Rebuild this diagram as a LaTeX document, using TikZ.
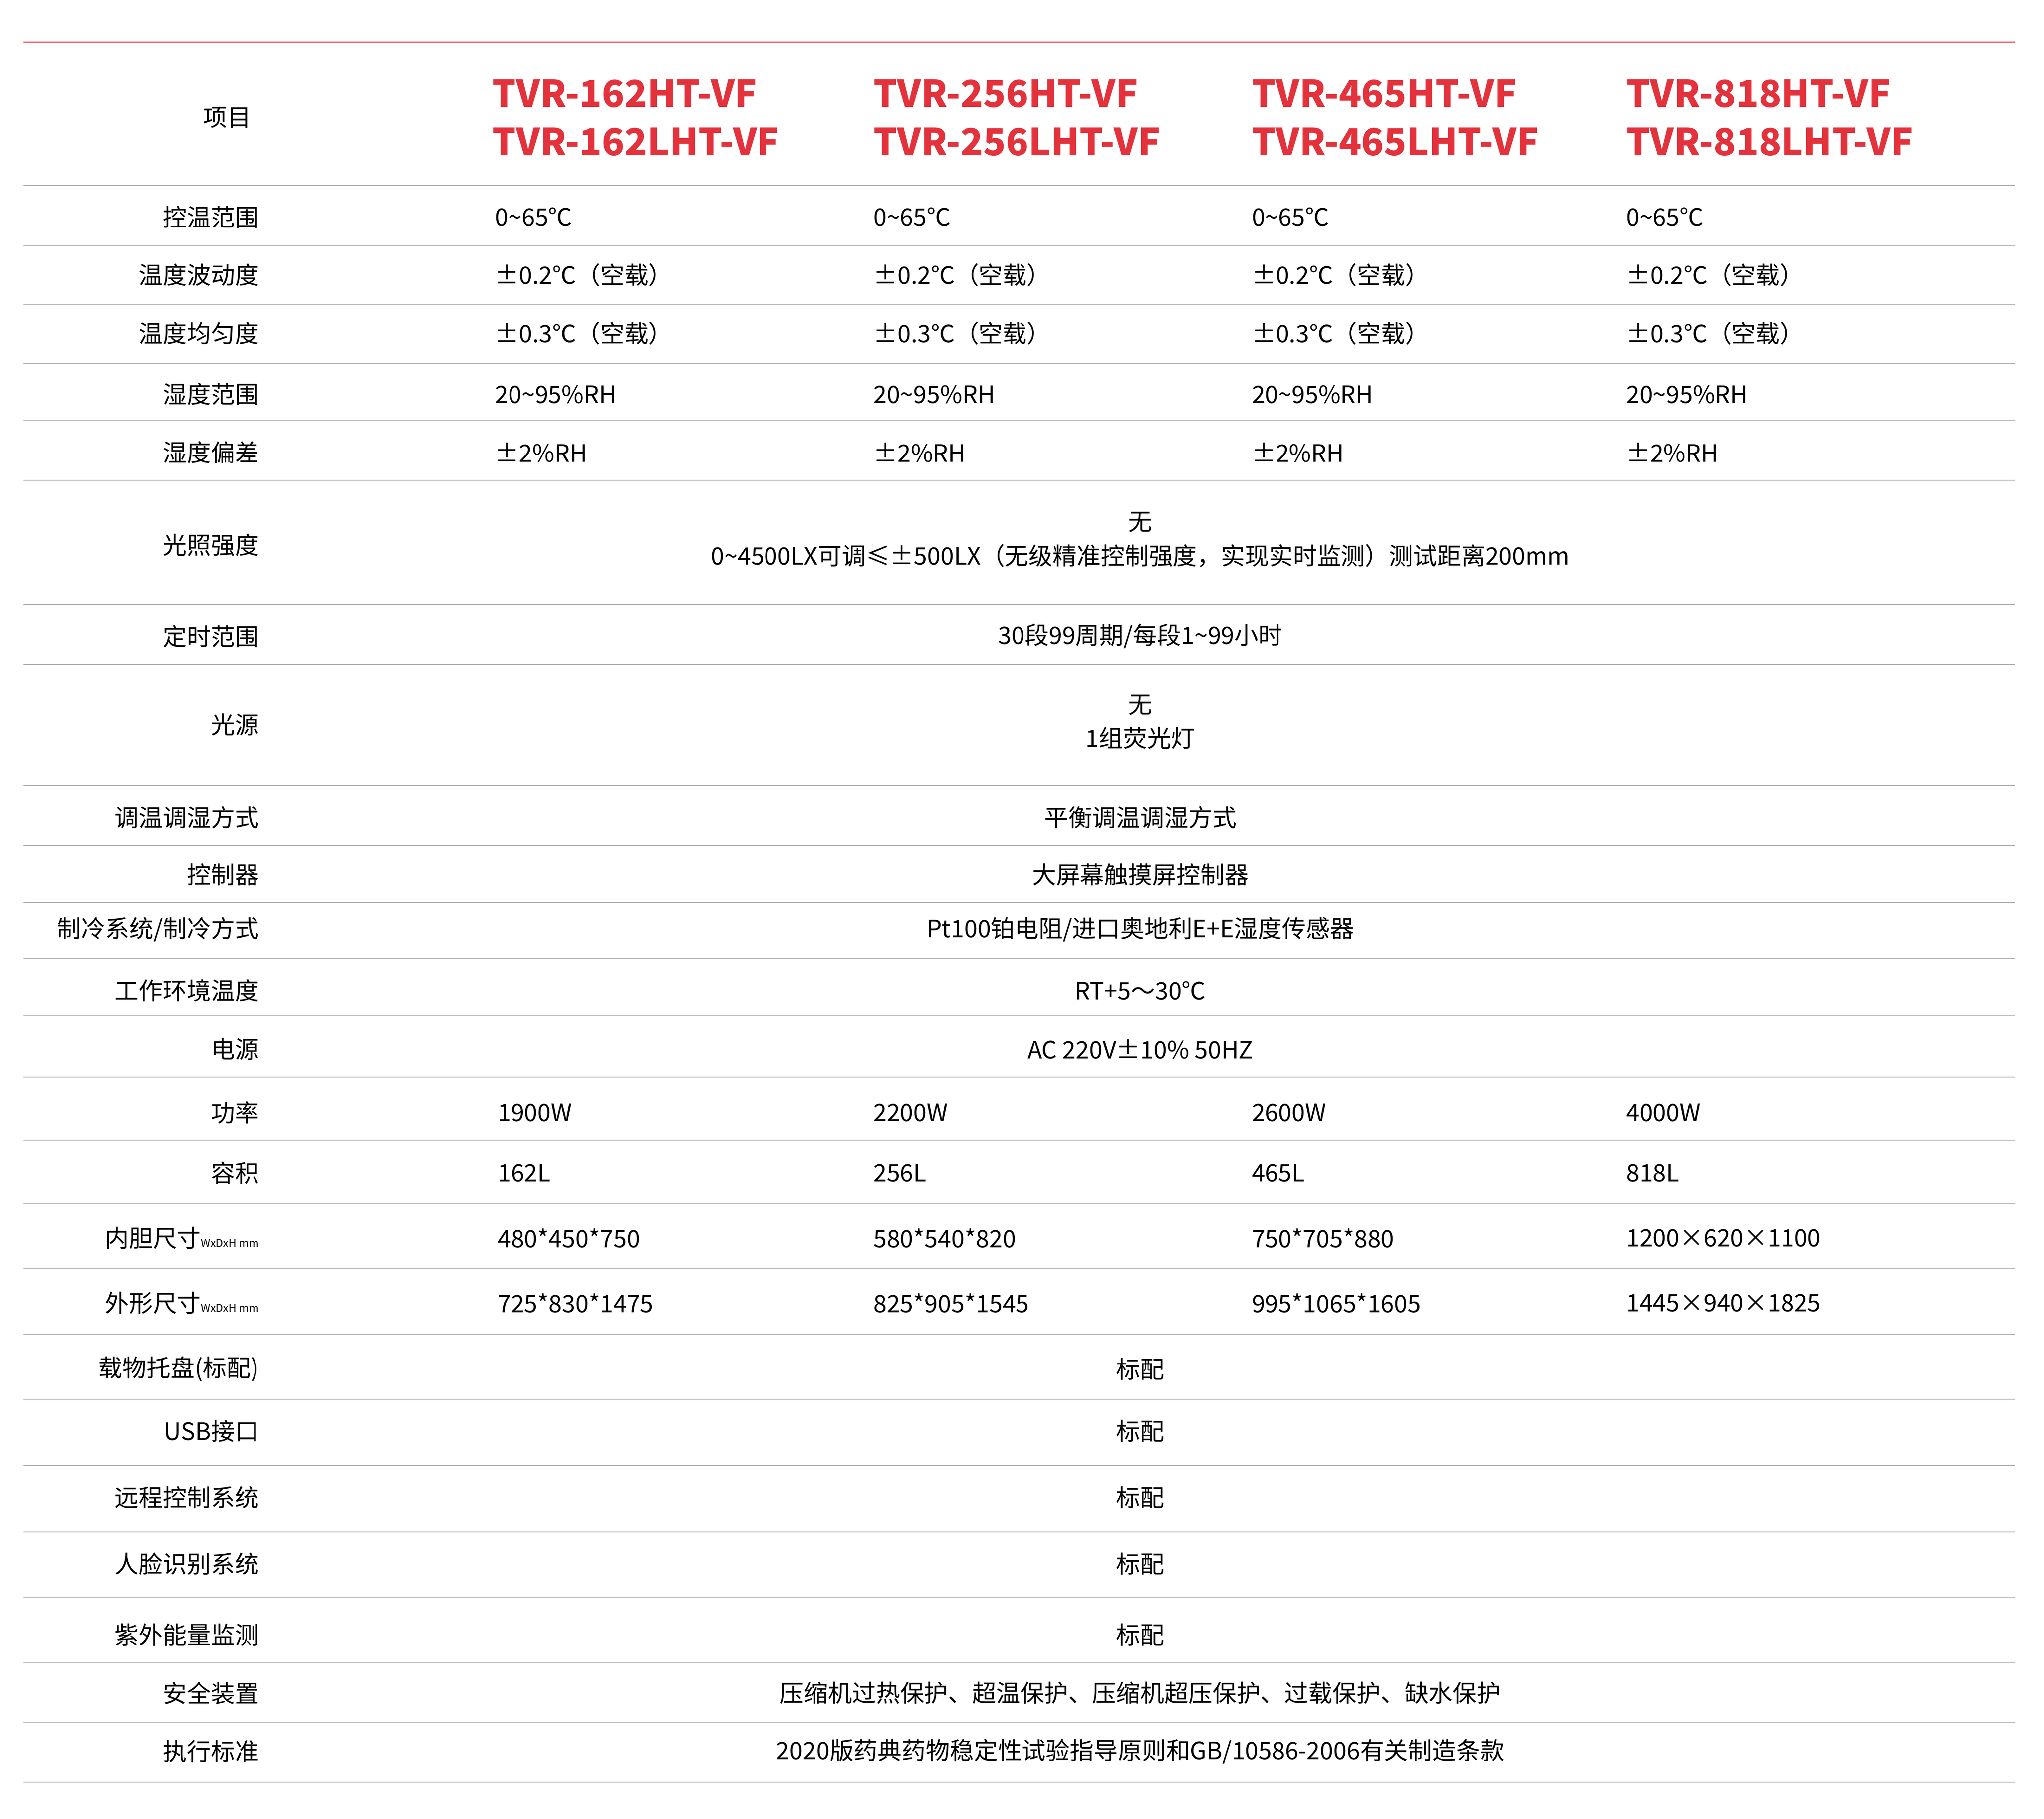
\documentclass[tikz,border=0pt]{standalone}
\usepackage{fontspec}
\setmainfont{Noto Sans CJK SC}
\definecolor{hdred}{HTML}{E3323B}
\definecolor{rule}{HTML}{B4B4B4}
\tikzset{
    cell/.style={anchor=west, inner sep=0pt, font=\fontsize{15.5}{18}\selectfont},
    label/.style={anchor=east, inner sep=0pt, font=\fontsize{15.5}{18}\selectfont},
    span/.style={anchor=center, inner sep=0pt, align=center, font=\fontsize{15.5}{22}\selectfont},
    model/.style={anchor=west, inner sep=0pt, align=left, text=hdred, font=\fontsize{24}{31}\selectfont\bfseries},
    gridline/.style={draw=rule, line width=0.6pt}
}
\newcommand{\sub}[1]{{\fontsize{7}{7}\selectfont #1}}
\begin{document}
\begin{tikzpicture}[x=0.03cm, y=-0.03cm]
    \useasboundingbox (0,0) rectangle (1545,1375);

    % rules
    \draw [draw=hdred!70, line width=0.8pt] (18,32) -- (1523,32);
    \foreach \y in {140,186,230,275,318,363,457,502,594,639,682,725,768,814,862,910,959,1009,1058,1108,1158,1208,1257,1302,1347}
        \draw [gridline] (18,\y) -- (1523,\y);

    % header
    \node (hitem) [label] at (190,89) {项目};
    \node (m1) [model] at (372,89) {TVR-162HT-VF\\TVR-162LHT-VF};
    \node (m2) [model] at (660,89) {TVR-256HT-VF\\TVR-256LHT-VF};
    \node (m3) [model] at (946,89) {TVR-465HT-VF\\TVR-465LHT-VF};
    \node (m4) [model] at (1229,89) {TVR-818HT-VF\\TVR-818LHT-VF};

    % row labels
    \foreach \y/\t [count=\i] in {164/控温范围, 208/温度波动度, 252/温度均匀度, 298/湿度范围, 342/湿度偏差,
        412/光照强度, 481/定时范围, 548/光源, 618/调温调湿方式, 661/控制器, 703/{制冷系统/制冷方式},
        749/工作环境温度, 793/电源, 841/功率, 887/容积, 1035/载物托盘(标配), 1082/USB接口,
        1132/远程控制系统, 1182/人脸识别系统, 1236/紫外能量监测, 1280/安全装置, 1324/执行标准}
        \node (lab\i) [label] at (196,\y) {\t};
    \node (labin) [label] at (196,936) {内胆尺寸\sub{WxDxH mm}};
    \node (labout) [label] at (196,985) {外形尺寸\sub{WxDxH mm}};

    % per-model rows
    \foreach \x [count=\c] in {374,660,946,1229} {
        \node (tr\c) [cell] at (\x,164) {0\textasciitilde 65℃};
        \node (tf\c) [cell] at (\x,208) {±0.2℃（空载）};
        \node (tu\c) [cell] at (\x,252) {±0.3℃（空载）};
        \node (hr\c) [cell] at (\x,298) {20\textasciitilde 95\%RH};
        \node (hd\c) [cell] at (\x,342) {±2\%RH};
    }
    \foreach \x/\p/\v/\i/\o [count=\c] in {376/1900W/162L/480*450*750/725*830*1475,
        660/2200W/256L/580*540*820/825*905*1545,
        946/2600W/465L/750*705*880/995*1065*1605,
        1229/4000W/818L/1200×620×1100/1445×940×1825} {
        \node (pw\c) [cell] at (\x,841) {\p};
        \node (vol\c) [cell] at (\x,887) {\v};
        \node (in\c) [cell] at (\x,936) {\i};
        \node (out\c) [cell] at (\x,985) {\o};
    }

    % spanning rows
    \node (light) [span] at (862,408) {无\\0\textasciitilde 4500LX可调≤±500LX（无级精准控制强度，实现实时监测）测试距离200mm};
    \node (timer) [span] at (862,481) {30段99周期/每段1\textasciitilde 99小时};
    \node (src) [span] at (862,546) {无\\1组荧光灯};
    \node (mode) [span] at (862,618) {平衡调温调湿方式};
    \node (ctrl) [span] at (862,661) {大屏幕触摸屏控制器};
    \node (cool) [span] at (862,703) {Pt100铂电阻/进口奥地利E+E湿度传感器};
    \node (env) [span] at (862,749) {RT+5～30℃};
    \node (pwr) [span] at (862,793) {AC 220V±10\% 50HZ};
    \foreach \y [count=\i] in {1035,1082,1132,1182,1236}
        \node (std\i) [span] at (862,\y) {标配};
    \node (safe) [span] at (862,1280) {压缩机过热保护、超温保护、压缩机超压保护、过载保护、缺水保护};
    \node (norm) [span] at (862,1324) {2020版药典药物稳定性试验指导原则和GB/10586-2006有关制造条款};
\end{tikzpicture}
\end{document}
